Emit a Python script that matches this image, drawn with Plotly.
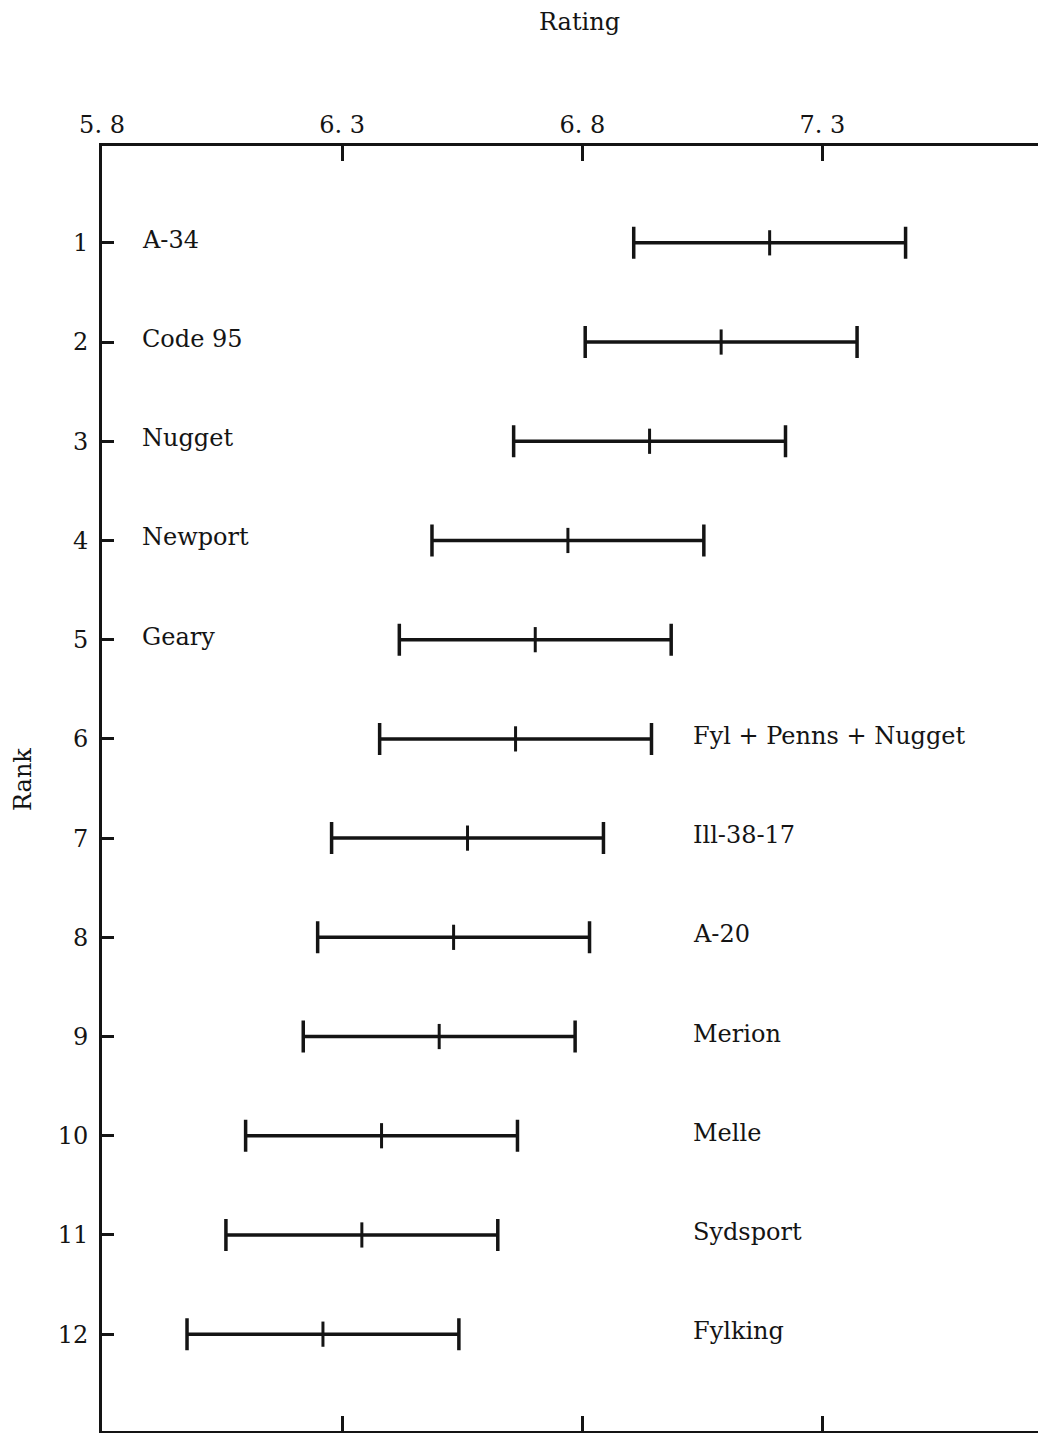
import plotly.graph_objects as go

ranks = [1, 2, 3, 4, 5, 6, 7, 8, 9, 10, 11, 12]
names = ["A-34", "Code 95", "Nugget", "Newport", "Geary", "Fyl + Penns + Nugget",
         "Ill-38-17", "A-20", "Merion", "Melle", "Sydsport", "Fylking"]
mean_rating = [7.190, 7.089, 6.940, 6.770, 6.702, 6.661, 6.561, 6.532, 6.502, 6.382, 6.341, 6.260]
half_width = 0.283
label_side = ["left"] * 5 + ["right"] * 7
x_ticks = [5.8, 6.3, 6.8, 7.3]
x_tick_text = ["5. 8", "6. 3", "6. 8", "7. 3"]

FONT = "DejaVu Serif"
INK = "#141414"
FS = 24

fig = go.Figure()
fig.add_trace(go.Scatter(
    x=mean_rating, y=ranks, mode="markers",
    marker=dict(symbol="line-ns", size=18, line=dict(width=3, color=INK), color=INK),
    error_x=dict(type="constant", value=half_width, thickness=3.5, width=16, color=INK),
    showlegend=False, hoverinfo="x+y",
))

for r, n, s in zip(ranks, names, label_side):
    fig.add_annotation(x=5.880 if s == "left" else 7.026, y=r, text=n, showarrow=False,
                       xanchor="left", yanchor="middle", yshift=3,
                       font=dict(family=FONT, size=FS, color=INK))

fig.add_annotation(xref="paper", yref="paper", x=0.5016, y=1, yshift=124, text="Rating",
                   showarrow=False, xanchor="center", yanchor="middle",
                   font=dict(family=FONT, size=FS, color=INK))
fig.add_annotation(xref="paper", yref="paper", x=0, xshift=-79, y=0.5066, text="Rank",
                   textangle=-90, showarrow=False, xanchor="center", yanchor="middle",
                   font=dict(family=FONT, size=FS, color=INK))

fig.update_layout(
    width=1046, height=1425,
    margin=dict(l=94, r=0, t=138, b=2),
    paper_bgcolor="white", plot_bgcolor="white",
    font=dict(family=FONT, size=FS, color=INK),
    xaxis=dict(range=[5.8, 7.782], side="top", tickvals=x_ticks, ticktext=x_tick_text,
               ticks="inside", ticklen=15, tickwidth=3, tickcolor=INK,
               showline=True, linewidth=3, linecolor=INK, mirror="ticks",
               showgrid=False, zeroline=False, ticklabelstandoff=0),
    yaxis=dict(range=[12.976, 0.024], tickvals=ranks,
               ticks="inside", ticklen=12, tickwidth=3, tickcolor=INK,
               showline=True, linewidth=3, linecolor=INK,
               showgrid=False, zeroline=False, ticklabelstandoff=6),
)

fig.write_html("out.html")
